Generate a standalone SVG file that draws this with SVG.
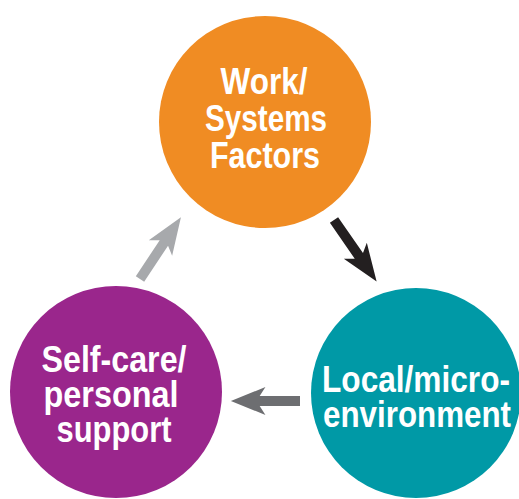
<svg xmlns="http://www.w3.org/2000/svg" width="519" height="499" viewBox="0 0 519 499">
<style>
.lbl{font-family:"Liberation Sans","Arial",sans-serif;font-weight:bold;font-size:37px;fill:#ffffff;text-anchor:middle}
</style>
<defs>
<path id="arr" d="M0,-5 L42,-5 L36,-14 L72,0 L36,14 L42,5 L0,5 Z"/>
</defs>
<rect width="519" height="499" fill="#ffffff"/>
<g id="connectors">
<use href="#arr" transform="translate(334,220) rotate(55.3) scale(1.04,1)" fill="#231F20"/>
<use href="#arr" transform="translate(300,401) rotate(180) scale(0.96,1)" fill="#6D6E71"/>
<use href="#arr" transform="translate(140,279) rotate(-56.5) scale(1.03,1)" fill="#A7A9AC"/>
</g>
<g id="work">
<circle cx="265" cy="122" r="106" fill="#F08C23"/>
<text class="lbl" x="264" y="94" textLength="87" lengthAdjust="spacingAndGlyphs">Work/</text>
<text class="lbl" x="266" y="131" textLength="122" lengthAdjust="spacingAndGlyphs">Systems</text>
<text class="lbl" x="265" y="168" textLength="110" lengthAdjust="spacingAndGlyphs">Factors</text>
</g>
<g id="local">
<circle cx="416" cy="393" r="105" fill="#0099A6"/>
<text class="lbl" x="416" y="392" textLength="188" lengthAdjust="spacingAndGlyphs">Local/micro-</text>
<text class="lbl" x="417" y="427" textLength="188" lengthAdjust="spacingAndGlyphs">environment</text>
</g>
<g id="selfcare">
<circle cx="116" cy="392" r="106" fill="#9A268C"/>
<text class="lbl" x="114" y="372" textLength="145" lengthAdjust="spacingAndGlyphs">Self-care/</text>
<text class="lbl" x="111" y="407" textLength="135" lengthAdjust="spacingAndGlyphs">personal</text>
<text class="lbl" x="114" y="442" textLength="115" lengthAdjust="spacingAndGlyphs">support</text>
</g>
</svg>
